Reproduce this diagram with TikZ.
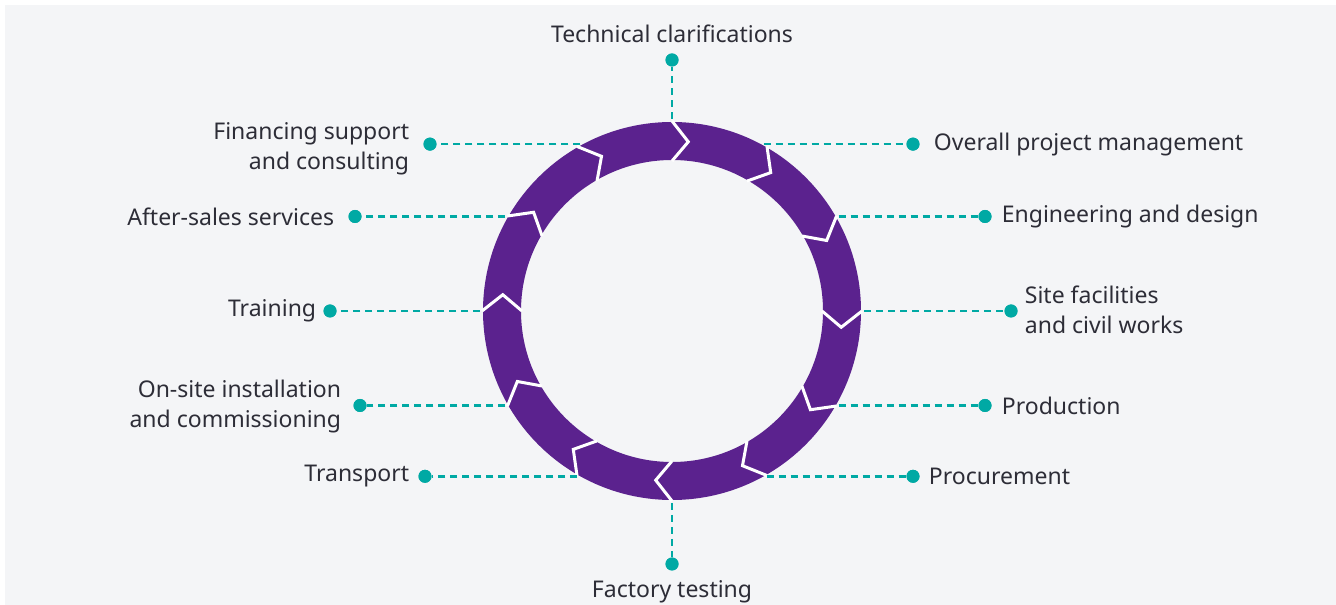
\documentclass[tikz,border=0pt]{standalone}
\usepackage{fontspec}
\setmainfont{Noto Sans}
\usetikzlibrary{positioning}
\definecolor{bgcol}{HTML}{F4F5F7}
\definecolor{ringcol}{HTML}{5B228E}
\definecolor{dotcol}{HTML}{00A9A4}
\definecolor{txtcol}{HTML}{2D2D37}
\tikzset{
  dot/.style={circle,fill=dotcol,inner sep=0pt,minimum size=13bp},
  lbl/.style={inner sep=0pt,text=txtcol,font=\fontsize{23bp}{30bp}\selectfont},
  link/.style={draw=dotcol,line width=2.5bp,dash pattern=on 7bp off 5bp,shorten <=3bp},
  gap/.style={draw=white,line width=3bp,line join=miter},
}
\begin{document}
\begin{tikzpicture}[>=latex,line join=bevel,node distance=14bp]
  \useasboundingbox (0bp,0bp) rectangle (1336bp,605bp);
  \fill[bgcol] (5bp,0bp) rectangle (1336bp,600bp);
  \coordinate (ctr) at (672bp,294bp);
%%
  % Ring
  \fill[ringcol,even odd rule] (ctr) circle (189bp) (ctr) circle (151bp);
  \foreach \a in {90,60,...,-240}
    \draw[gap] ([shift={(ctr)}]\a:190bp) -- ([shift={(ctr)}]{\a-5.5}:170bp) -- ([shift={(ctr)}]\a:150bp);
  % Ring ports
  \coordinate (p0) at ([shift={(ctr)}]90:189bp);
  \coordinate (p1) at ([shift={(ctr)}]62:189bp);
  \coordinate (p2) at ([shift={(ctr)}]30:189bp);
  \coordinate (p3) at ([shift={(ctr)}]0:189bp);
  \coordinate (p4) at ([shift={(ctr)}]-30:189bp);
  \coordinate (p5) at ([shift={(ctr)}]-61:189bp);
  \coordinate (p6) at ([shift={(ctr)}]-90:189bp);
  \coordinate (p7) at ([shift={(ctr)}]-119:189bp);
  \coordinate (p8) at ([shift={(ctr)}]-150:189bp);
  \coordinate (p9) at ([shift={(ctr)}]180:189bp);
  \coordinate (p10) at ([shift={(ctr)}]150:189bp);
  \coordinate (p11) at ([shift={(ctr)}]118:189bp);
%%
  % Node: d0
  \node[dot] (d0) at (672bp,545bp) {};
  \node[lbl,above=10bp of d0] (t0) {Technical clarifications};
  % Node: d1
  \node[dot] (d1) at (913bp,0 |- p1) {};
  \node[lbl,right=14bp of d1] (t1) {Overall project management};
  % Node: d2
  \node[dot] (d2) at (985bp,0 |- p2) {};
  \node[lbl,right=10bp of d2] (t2) {Engineering and design};
  % Node: d3
  \node[dot] (d3) at (1011bp,0 |- p3) {};
  \node[lbl,right=7bp of d3,align=left,yshift=1bp] (t3) {Site facilities\\and civil works};
  % Node: d4
  \node[dot] (d4) at (985bp,0 |- p4) {};
  \node[lbl,right=10bp of d4] (t4) {Production};
  % Node: d5
  \node[dot] (d5) at (913bp,0 |- p5) {};
  \node[lbl,right=9bp of d5] (t5) {Procurement};
  % Node: d6
  \node[dot] (d6) at (672bp,41bp) {};
  \node[lbl,below=10bp of d6] (t6) {Factory testing};
  % Node: d7
  \node[dot] (d7) at (425bp,0 |- p7) {};
  \node[lbl,left=9bp of d7] (t7) {Transport};
  % Node: d8
  \node[dot] (d8) at (360bp,0 |- p8) {};
  \node[lbl,left=12bp of d8,align=right,yshift=-1bp] (t8) {On-site installation\\and commissioning};
  % Node: d9
  \node[dot] (d9) at (330bp,0 |- p9) {};
  \node[lbl,left=7bp of d9] (t9) {Training};
  % Node: d10
  \node[dot] (d10) at (355bp,0 |- p10) {};
  \node[lbl,left=14bp of d10] (t10) {After-sales services};
  % Node: d11
  \node[dot] (d11) at (430bp,0 |- p11) {};
  \node[lbl,left=14bp of d11,align=right,yshift=-5bp] (t11) {Financing support\\and consulting};
%%
  % Edge: ring -> dots
  \foreach \i in {0,...,11}
    \draw[link] (p\i) -- (d\i);
  \foreach \i in {0,...,11}
    \fill[dotcol] (d\i) circle (6.5bp);
%
\end{tikzpicture}
\end{document}
